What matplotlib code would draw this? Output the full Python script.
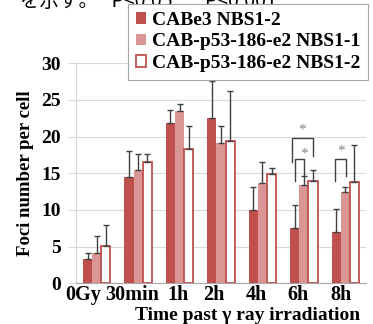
import matplotlib
matplotlib.use("Agg")
import matplotlib.pyplot as plt
import matplotlib.transforms as mtransforms
import numpy as np

categories = ["0Gy", "30min", "1h", "2h", "4h", "6h", "8h"]
series_names = ["CABe3 NBS1-2", "CAB-p53-186-e2 NBS1-1", "CAB-p53-186-e2 NBS1-2"]
vals_a = [3.3, 14.5, 21.9, 22.5, 10.0, 7.5, 7.0]
err_a = [0.8, 3.5, 1.7, 5.1, 3.1, 3.2, 3.1]
vals_b = [4.1, 15.5, 23.5, 19.1, 13.7, 13.4, 12.4]
err_b = [2.3, 2.1, 1.0, 2.4, 2.8, 1.2, 0.8]
vals_c = [5.1, 16.5, 18.3, 19.4, 14.9, 13.9, 13.8]
err_c = [2.9, 1.1, 3.1, 6.8, 0.8, 1.6, 5.1]
yticks = [0, 5, 10, 15, 20, 25, 30]

RED = "#C0504D"
PINK = "#D99694"
ERR = "#404040"
serif = ["Liberation Serif", "DejaVu Serif"]

fig = plt.figure(figsize=(3.73, 3.24), dpi=100)
ax = fig.add_axes([76/373, 1-283.3/324, 290/373, 220/324])

x = np.arange(len(categories))
w = 0.22
specs = [(vals_a, err_a, dict(color=RED)),
         (vals_b, err_b, dict(color=PINK)),
         (vals_c, err_c, dict(facecolor="white", edgecolor=RED, linewidth=1.3))]
for i, (v, e, st) in enumerate(specs):
    pos = x + (i - 1) * w
    ax.bar(pos, v, w, label=series_names[i], zorder=3, **st)
    ax.errorbar(pos, v, yerr=[np.zeros(len(v)), e], fmt="none", ecolor=ERR,
                elinewidth=1.0, capsize=2.2, capthick=1.0, zorder=4)

ax.set_xlim(-0.5, len(categories) - 0.5)
ax.set_ylim(0, 30)
ax.set_yticks(yticks)
ax.yaxis.grid(True, color="#D9D9D9", linewidth=0.8, zorder=0)
ax.set_axisbelow(True)
for s in ["top", "right"]:
    ax.spines[s].set_visible(False)
ax.spines["left"].set_color("#D9D9D9")
ax.spines["bottom"].set_color("#A6A6A6")
ax.tick_params(axis="y", length=6, color="#D9D9D9", pad=5)
ax.tick_params(axis="x", length=0, pad=1)
ax.set_xticks(x)
ax.set_xticklabels(categories, fontfamily=serif, fontweight="bold", fontsize=14.5)
# the original labels sit slightly left of their groups
label_shift_px = [-14, -6, -2, -7, -6, -6, -4]
for lab, dx in zip(ax.get_xticklabels(), label_shift_px):
    lab.set_transform(lab.get_transform() +
                      mtransforms.ScaledTranslation(dx / 100, 0, fig.dpi_scale_trans))
for t in ax.get_yticklabels():
    t.set_fontfamily(serif); t.set_fontweight("bold"); t.set_fontsize(14)
ax.set_ylabel("Foci number per cell", fontfamily=serif, fontweight="bold",
              fontsize=13.5, labelpad=5)
fig.text(248/373, 1-315/324, "Time past γ ray irradiation", ha="center", va="center",
         fontfamily=serif, fontweight="bold", fontsize=14)

# significance brackets
BR = "#404040"
def bracket(x0, x1, ytop, yl, yr, sx, sy):
    ax.plot([x0, x0, x1, x1], [yl, ytop, ytop, yr], color=BR, lw=1.0, zorder=5)
    ax.text(sx, sy, "*", ha="center", va="center", fontsize=11, color="#808080",
            fontfamily=serif, zorder=6)

bracket(5 - 1.3*w, 5 + w, 19.8, 16.6, 17.4, 5 - 0.15*w, 20.9)
bracket(5 - w, 5, 16.9, 13.9, 14.6, 5, 17.6)
bracket(6 - w*1.1, 6 + 0.05*w, 17.0, 13.9, 14.6, 6 - 0.5*w, 18.0)

leg = fig.legend(loc="upper left", bbox_to_anchor=(128/373, 1-4/324), borderaxespad=0,
                 prop=dict(family=serif, weight="bold", size=14), frameon=True,
                 fancybox=False, framealpha=1, edgecolor="#A6A6A6",
                 handlelength=0.55, handleheight=0.55, handletextpad=0.3,
                 labelspacing=0.24, borderpad=0.4)
leg.get_frame().set_linewidth(0.8)
leg.set_zorder(10)

fig.text(20/373, 1-7/324, "を示す。 *P<0.05:  **P<0.001", ha="left", va="baseline",
         fontsize=14, family=["Noto Sans CJK JP", "DejaVu Sans"], zorder=1)

fig.savefig("out.png", dpi=100)
